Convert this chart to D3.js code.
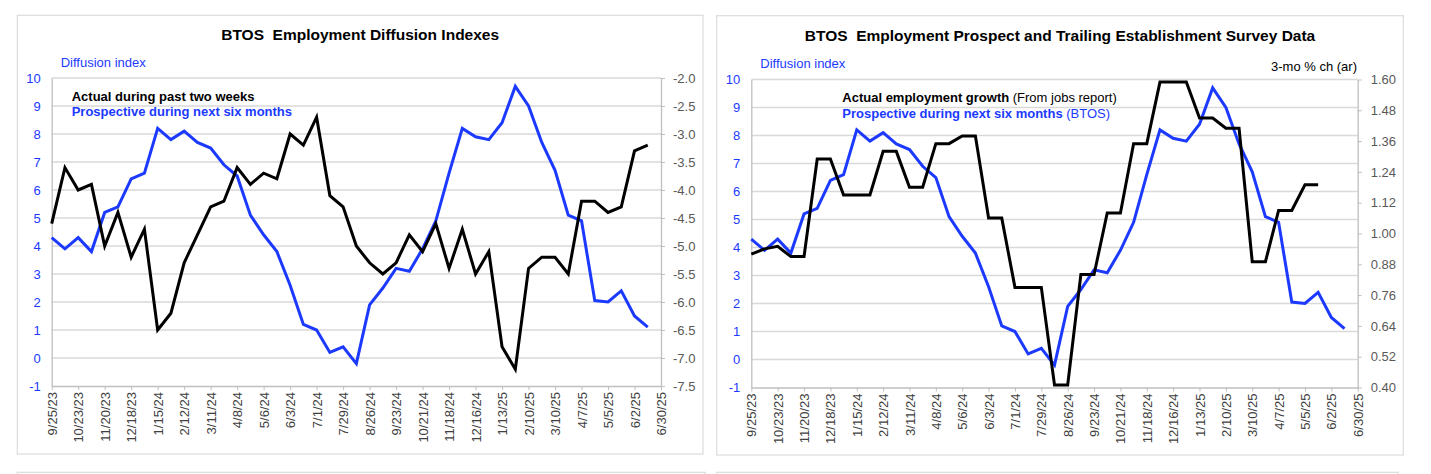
<!DOCTYPE html>
<html>
<head>
<meta charset="utf-8">
<script src="https://cdn.jsdelivr.net/npm/d3@7"></script>
<style>
  body { margin: 0; background: #fff; }
  svg { display: block; font-family: "Liberation Sans", Arial, sans-serif; }
</style>
</head>
<body>
<div id="chart"></div>
<script>
// biweekly BTOS survey dates
const surveyDates = [
    "9/25/23", "10/9/23", "10/23/23", "11/6/23", "11/20/23", "12/4/23", "12/18/23", "1/1/24",
    "1/15/24", "1/29/24", "2/12/24", "2/26/24", "3/11/24", "3/25/24", "4/8/24", "4/22/24",
    "5/6/24", "5/20/24", "6/3/24", "6/17/24", "7/1/24", "7/15/24", "7/29/24", "8/12/24",
    "8/26/24", "9/9/24", "9/23/24", "10/7/24", "10/21/24", "11/4/24", "11/18/24", "12/2/24",
    "12/16/24", "12/30/24", "1/13/25", "1/27/25", "2/10/25", "2/24/25", "3/10/25", "3/24/25",
    "4/7/25", "4/21/25", "5/5/25", "5/19/25", "6/2/25", "6/16/25"
];

// x axis tick labels (every 4 weeks)
const dateTicks = [
    "9/25/23", "10/23/23", "11/20/23", "12/18/23", "1/15/24", "2/12/24", "3/11/24", "4/8/24",
    "5/6/24", "6/3/24", "7/1/24", "7/29/24", "8/26/24", "9/23/24", "10/21/24", "11/18/24",
    "12/16/24", "1/13/25", "2/10/25", "3/10/25", "4/7/25", "5/5/25", "6/2/25", "6/30/25"
];

// actual during past two weeks (right axis, left chart)
const actualDiffusion = [
    -4.6, -3.6, -4.0, -3.9, -5.0, -4.4, -5.2, -4.7, -6.5, -6.2,
    -5.3, -4.8, -4.3, -4.2, -3.6, -3.9, -3.7, -3.8, -3.0, -3.2,
    -2.7, -4.1, -4.3, -5.0, -5.3, -5.5, -5.3, -4.8, -5.1, -4.6,
    -5.4, -4.7, -5.5, -5.1, -6.8, -7.2, -5.4, -5.2, -5.2, -5.5,
    -4.2, -4.2, -4.4, -4.3, -3.3, -3.2
];

// prospective during next six months (left axis, both charts)
const prospectiveDiffusion = [
    4.3, 3.9, 4.3, 3.8, 5.2, 5.4, 6.4, 6.6, 8.2, 7.8,
    8.1, 7.7, 7.5, 6.9, 6.5, 5.1, 4.4, 3.8, 2.6, 1.2,
    1.0, 0.2, 0.4, -0.2, 1.9, 2.5, 3.2, 3.1, 3.9, 4.9,
    6.6, 8.2, 7.9, 7.8, 8.4, 9.7, 9.0, 7.7, 6.7, 5.1,
    4.9, 2.05, 2.0, 2.4, 1.5, 1.1
];

// actual employment growth from jobs report, 3-mo % ch (ar)
const actualGrowth = [
    0.92, 0.94, 0.95, 0.91, 0.91, 1.29, 1.29, 1.15, 1.15, 1.15,
    1.32, 1.32, 1.18, 1.18, 1.35, 1.35, 1.38, 1.38, 1.06, 1.06,
    0.79, 0.79, 0.79, 0.41, 0.41, 0.84, 0.84, 1.08, 1.08, 1.35,
    1.35, 1.59, 1.59, 1.59, 1.45, 1.45, 1.41, 1.41, 0.89, 0.89,
    1.09, 1.09, 1.19, 1.19
];

// axis tick values
const diffusionTicks = [10, 9, 8, 7, 6, 5, 4, 3, 2, 1, 0, -1];
const actualTicks = [-2.0, -2.5, -3.0, -3.5, -4.0, -4.5, -5.0, -5.5, -6.0, -6.5, -7.0, -7.5];
const growthTicks = [1.60, 1.48, 1.36, 1.24, 1.12, 1.00, 0.88, 0.76, 0.64, 0.52, 0.40];

const svgWidth = 1431;
const svgHeight = 474;

const blue = "#1c3aff";
const gridColor = "#d9d9d9";
const axisColor = "#bfbfbf";

const parseDate = d3.utcParse("%m/%d/%y");
const formatDate = d3.utcFormat("%-m/%-d/%y");

// plain hyphen minus like the original
const fmt = spec => d => d3.format(spec)(d).replace("\u2212", "-");

const svg = d3.select("#chart").append("svg")
    .attr("width", svgWidth)
    .attr("height", svgHeight);

svg.append("rect")
    .attr("width", svgWidth)
    .attr("height", svgHeight)
    .attr("fill", "#fff");

// draws one bordered panel with two y axes -----------------------------------------------------
const drawPanel = (p) => {

    // panel frame
    svg.append("rect")
        .attr("x", p.boxX)
        .attr("y", p.boxY)
        .attr("width", p.boxW)
        .attr("height", p.boxH)
        .attr("fill", "none")
        .attr("stroke", "#dcdcdc")
        .attr("stroke-width", 1.2);

    const x = d3.scaleUtc()
        .domain([parseDate(dateTicks[0]), parseDate(dateTicks[dateTicks.length - 1])])
        .range([p.left, p.right]);

    const yL = d3.scaleLinear()
        .domain([-1, 10])
        .range([p.bottom, p.top]);

    const yR = d3.scaleLinear()
        .domain(p.rightDomain)
        .range([p.bottom, p.top]);

    // gridlines from the left axis
    svg.append("g")
        .selectAll("line")
        .data(diffusionTicks.filter(d => d > -1))
        .enter()
        .append("line")
        .attr("x1", p.left)
        .attr("x2", p.right)
        .attr("y1", d => yL(d))
        .attr("y2", d => yL(d))
        .attr("stroke", gridColor)
        .attr("stroke-width", 1.5);

    // left axis
    const leftAxisG = svg.append("g")
        .attr("transform", `translate(${p.left}, 0)`)
        .call(d3.axisLeft(yL).tickValues(diffusionTicks).tickSize(0).tickPadding(11).tickFormat(fmt("d")));
    leftAxisG.select(".domain").attr("stroke", axisColor).attr("stroke-width", 1.3);
    leftAxisG.selectAll("text")
        .attr("fill", blue)
        .attr("font-size", 13);

    // right axis
    const rightAxisG = svg.append("g")
        .attr("transform", `translate(${p.right}, 0)`)
        .call(d3.axisRight(yR).tickValues(p.rightTicks).tickSizeInner(4).tickSizeOuter(0).tickPadding(p.rightPad).tickFormat(fmt(p.rightFormat)));
    rightAxisG.select(".domain").attr("stroke", axisColor).attr("stroke-width", 1.3);
    rightAxisG.selectAll("line").attr("stroke", axisColor);
    rightAxisG.selectAll("text")
        .attr("fill", "#595959")
        .attr("font-size", 13);

    // bottom axis
    const xAxisG = svg.append("g")
        .attr("transform", `translate(0, ${p.bottom})`)
        .call(d3.axisBottom(x).tickValues(dateTicks.map(parseDate)).tickFormat(formatDate).tickSizeInner(4).tickSizeOuter(0));
    xAxisG.select(".domain").attr("stroke", axisColor).attr("stroke-width", 1.3);
    xAxisG.selectAll("line").attr("stroke", axisColor);
    xAxisG.selectAll("text")
        .attr("transform", "rotate(-90)")
        .attr("text-anchor", "end")
        .attr("x", -6)
        .attr("y", 0)
        .attr("dy", "0.35em")
        .attr("fill", "#404040")
        .attr("font-size", 13);

    // lines
    const blueLine = d3.line()
        .x((d, i) => x(parseDate(surveyDates[i])))
        .y(d => yL(d));

    const blackLine = d3.line()
        .x((d, i) => x(parseDate(surveyDates[i])))
        .y(d => yR(d));

    svg.append("path")
        .datum(prospectiveDiffusion)
        .attr("d", blueLine)
        .attr("fill", "none")
        .attr("stroke", blue)
        .attr("stroke-width", 3);

    svg.append("path")
        .datum(p.blackValues)
        .attr("d", blackLine)
        .attr("fill", "none")
        .attr("stroke", "#000")
        .attr("stroke-width", 3);

    // title and axis captions
    svg.append("text")
        .attr("x", p.boxX + p.boxW / 2)
        .attr("y", p.boxY + 25)
        .attr("text-anchor", "middle")
        .attr("font-size", 15.5)
        .attr("font-weight", "bold")
        .attr("fill", "#000")
        .style("white-space", "pre")
        .text(p.title);

    svg.append("text")
        .attr("x", p.left + 9)
        .attr("y", p.top - 11.5)
        .attr("font-size", 13)
        .attr("fill", blue)
        .text("Diffusion index");

    // legend
    const legendX = p.left + p.legendDx;
    const line1 = svg.append("text")
        .attr("x", legendX)
        .attr("y", p.top + 22.5)
        .attr("font-size", 13)
        .attr("fill", "#000")
        .style("white-space", "pre");
    line1.append("tspan").attr("font-weight", "bold").text(p.legend1[0]);
    if (p.legend1[1]) line1.append("tspan").text(p.legend1[1]);

    const line2 = svg.append("text")
        .attr("x", legendX)
        .attr("y", p.top + 38)
        .attr("font-size", 13)
        .attr("fill", blue)
        .style("white-space", "pre");
    line2.append("tspan").attr("font-weight", "bold").text(p.legend2[0]);
    if (p.legend2[1]) line2.append("tspan").text(p.legend2[1]);

    return { x, yL, yR };
};

// left chart --------------------------------------------------------------------------------
drawPanel({
    boxX: 17.3, boxY: 15.3, boxW: 685.7, boxH: 438.7,
    left: 51.7, right: 661, top: 78, bottom: 386,
    rightDomain: [-7.5, -2.0],
    rightTicks: actualTicks,
    rightFormat: ".1f",
    rightPad: 8,
    blackValues: actualDiffusion,
    title: "BTOS  Employment Diffusion Indexes",
    legendDx: 20,
    legend1: ["Actual during past two weeks"],
    legend2: ["Prospective during next six months"]
});

// right chart -------------------------------------------------------------------------------
drawPanel({
    boxX: 716.7, boxY: 15.7, boxW: 686.6, boxH: 439.3,
    left: 751.3, right: 1357.7, top: 79.5, bottom: 387.5,
    rightDomain: [0.40, 1.60],
    rightTicks: growthTicks,
    rightFormat: ".2f",
    rightPad: 9,
    blackValues: actualGrowth,
    title: "BTOS  Employment Prospect and Trailing Establishment Survey Data",
    legendDx: 91,
    legend1: ["Actual employment growth", " (From jobs report)"],
    legend2: ["Prospective during next six months", " (BTOS)"]
});

svg.append("text")
    .attr("x", 1357)
    .attr("y", 71)
    .attr("text-anchor", "end")
    .attr("font-size", 13)
    .attr("fill", "#000")
    .text("3-mo % ch (ar)");

// tops of the next row of panels
svg.append("rect")
    .attr("x", 17.3).attr("y", 472.3)
    .attr("width", 688).attr("height", 20)
    .attr("fill", "none").attr("stroke", "#dcdcdc").attr("stroke-width", 1.2);
svg.append("rect")
    .attr("x", 716.7).attr("y", 472.3)
    .attr("width", 681.6).attr("height", 20)
    .attr("fill", "none").attr("stroke", "#dcdcdc").attr("stroke-width", 1.2);
</script>
</body>
</html>
